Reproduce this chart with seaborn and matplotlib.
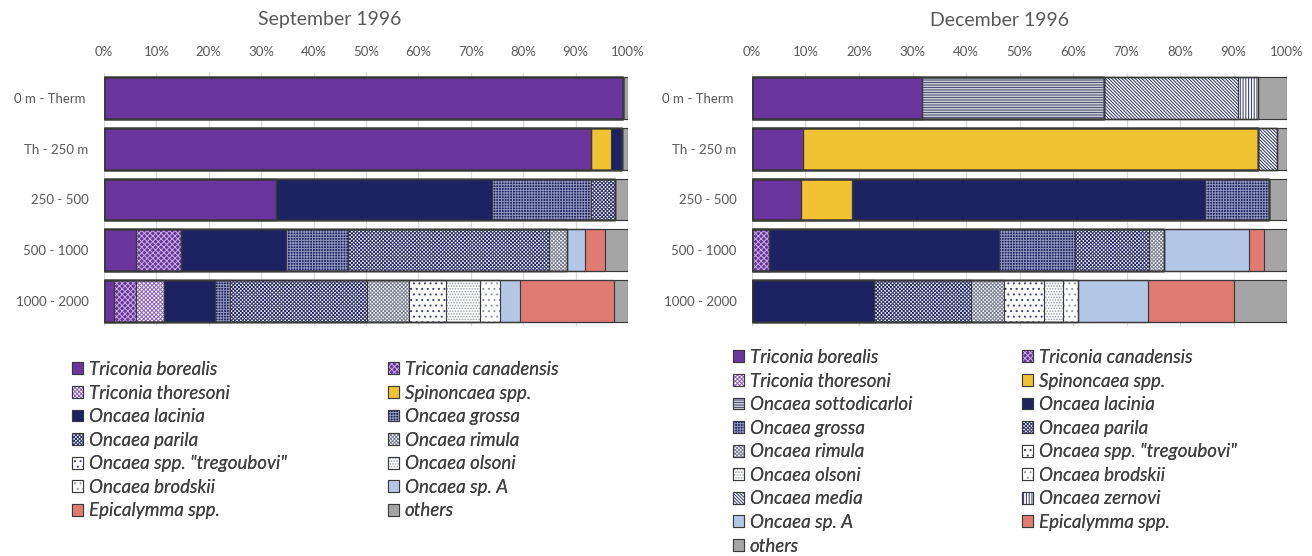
import matplotlib
matplotlib.use("Agg")
import matplotlib.pyplot as plt
from matplotlib.patches import Patch
from matplotlib.legend_handler import HandlerTuple
import numpy as np
import pandas as pd
import seaborn as sns

# ---------------------------------------------------------------- data
DEPTHS = ["0 m - Therm ", "Th - 250 m", "250 - 500", "500 - 1000", "1000 - 2000"]
PCT_TICKS = [0, 10, 20, 30, 40, 50, 60, 70, 80, 90, 100]

SEP_SPECIES = ["Triconia borealis", "Triconia canadensis", "Triconia thoresoni",
               "Spinoncaea spp.", "Oncaea lacinia", "Oncaea grossa", "Oncaea parila",
               "Oncaea rimula", 'Oncaea spp. "tregoubovi"', "Oncaea olsoni",
               "Oncaea brodskii", "Oncaea sp. A", "Epicalymma spp.", "others"]

# relative abundance (%) per depth layer, in SEP_SPECIES order
sep_0m_therm = [99.1, 0, 0, 0, 0, 0, 0, 0, 0, 0, 0, 0, 0, 0.9]
sep_th_250 = [93.0, 0, 0, 3.8, 2.1, 0, 0, 0, 0, 0, 0, 0, 0, 1.1]
sep_250_500 = [32.9, 0, 0, 0, 41.1, 19.0, 4.6, 0, 0, 0, 0, 0, 0, 2.4]
sep_500_1000 = [6.2, 8.4, 0, 0, 20.1, 11.9, 38.3, 3.5, 0, 0, 0, 3.3, 4.0, 4.3]
sep_1000_2000 = [1.9, 4.3, 5.2, 0, 9.7, 2.9, 26.1, 8.1, 7.1, 6.4, 3.8, 3.8, 18.0, 2.7]

DEC_SPECIES = ["Triconia borealis", "Triconia canadensis", "Triconia thoresoni",
               "Spinoncaea spp.", "Oncaea sottodicarloi", "Oncaea lacinia",
               "Oncaea grossa", "Oncaea parila", "Oncaea rimula",
               'Oncaea spp. "tregoubovi"', "Oncaea olsoni", "Oncaea brodskii",
               "Oncaea media", "Oncaea zernovi", "Oncaea sp. A", "Epicalymma spp.",
               "others"]

# relative abundance (%) per depth layer, in DEC_SPECIES order
dec_0m_therm = [31.8, 0, 0, 0, 34.0, 0, 0, 0, 0, 0, 0, 0, 25.1, 3.6, 0, 0, 5.5]
dec_th_250 = [9.5, 0, 0, 85.1, 0, 0, 0, 0, 0, 0, 0, 0, 3.6, 0, 0, 0, 1.8]
dec_250_500 = [9.1, 0, 0, 9.5, 0, 66.0, 12.1, 0, 0, 0, 0, 0, 0, 0, 0, 0, 3.3]
dec_500_1000 = [0, 3.1, 0, 0, 0, 43.0, 14.2, 13.9, 2.8, 0, 0, 0, 0, 0, 15.9, 2.8, 4.3]
dec_1000_2000 = [0, 0, 0, 0, 0, 22.8, 0, 18.1, 6.2, 7.4, 3.6, 2.8, 0, 0, 13.2, 16.0, 9.9]

# ---------------------------------------------------------------- styling
PURPLE = "#6A359C"
NAVY = "#1C2262"
YELLOW = "#F1C232"
LIGHTBLUE = "#B4C7E7"
SALMON = "#E07B73"
GREY = "#A5A5A5"
OUTLINE = "#3A3A3A"
TEXT = "#595959"

# species -> (fill colour, hatch, hatch colour)
STYLE = {
    "Triconia borealis": (PURPLE, None, None),
    "Triconia canadensis": (PURPLE, "x" * 6, "#C4AEE0"),
    "Triconia thoresoni": ("#FFFFFF", "x" * 8, "#8A5CBD"),
    "Spinoncaea spp.": (YELLOW, None, None),
    "Oncaea sottodicarloi": ("#FFFFFF", "-" * 10, "#4B5272"),
    "Oncaea lacinia": (NAVY, None, None),
    "Oncaea grossa": (NAVY, "+" * 6, "#9196BC"),
    "Oncaea parila": ("#FFFFFF", "x" * 9, "#2A3070"),
    "Oncaea rimula": ("#FFFFFF", "x" * 9, "#7C8196"),
    'Oncaea spp. "tregoubovi"': ("#FFFFFF", "...", "#3A4080"),
    "Oncaea olsoni": ("#FFFFFF", "." * 6, "#9095AA"),
    "Oncaea brodskii": ("#FFFFFF", "...", "#9095AA"),
    "Oncaea media": ("#FFFFFF", "\\" * 10, "#2A3070"),
    "Oncaea zernovi": ("#FFFFFF", "|" * 6, "#2A3070"),
    "Oncaea sp. A": (LIGHTBLUE, None, None),
    "Epicalymma spp.": (SALMON, None, None),
    "others": (GREY, None, None),
}

sns.set_style("white")
plt.rcParams["font.family"] = ["Lato", "DejaVu Sans"]
plt.rcParams["hatch.linewidth"] = 0.7

W, H = 1312, 556
fig = plt.figure(figsize=(W / 100, H / 100), dpi=100)

BAR_W = 0.83


def fx(px):
    return px / W


def fy(py):
    return 1 - py / H


def draw_panel(ax, species, rows):
    values = np.array(rows, dtype=float)
    cum = values.cumsum(axis=1)
    # stacked segments: draw cumulative bars from the widest down
    for k in range(len(species) - 1, -1, -1):
        fc, hatch, hc = STYLE[species[k]]
        df = pd.DataFrame({"depth": DEPTHS, "end": cum[:, k]})
        sns.barplot(data=df, x="end", y="depth", orient="h", ax=ax,
                    color=fc, saturation=1, width=BAR_W, errorbar=None,
                    hatch=hatch, edgecolor=hc if hatch else fc,
                    linewidth=0, zorder=2)
    # segment outlines
    for k in range(len(species)):
        if not values[:, k].any():
            continue
        df = pd.DataFrame({"depth": DEPTHS, "end": cum[:, k]})
        sns.barplot(data=df, x="end", y="depth", orient="h", ax=ax,
                    width=BAR_W, errorbar=None, fill=False, color=OUTLINE,
                    linewidth=0.85, zorder=3)
    ax.set_xlim(0, 100)
    ax.set_ylim(len(DEPTHS) - 0.5, -0.5)
    ax.set_xticks(PCT_TICKS)
    ax.set_xticklabels([f"{v}%" for v in PCT_TICKS])
    ax.xaxis.tick_top()
    ax.tick_params(axis="x", length=0, pad=11, labelsize=9.5, labelcolor=TEXT)
    ax.tick_params(axis="y", length=0, pad=11, labelsize=9.5, labelcolor=TEXT)
    ax.set_xlabel("")
    ax.set_ylabel("")
    for s in ax.spines.values():
        s.set_visible(False)
    ax.grid(axis="x", color="#D9D9D9", linewidth=0.9)
    ax.grid(axis="y", visible=False)
    ax.set_axisbelow(True)


def add_legend(species, xa, xb, ytop):
    def handle(sp):
        fc, hatch, hc = STYLE[sp]
        fill = Patch(facecolor=fc, hatch=hatch, edgecolor=hc if hatch else fc, linewidth=0)
        edge = Patch(facecolor="none", edgecolor=OUTLINE, linewidth=0.8)
        return (fill, edge)

    cols = [species[0::2], species[1::2]]
    for names, x in zip(cols, (xa, xb)):
        leg = fig.legend([handle(n) for n in names], names,
                         loc="upper left", bbox_to_anchor=(fx(x), fy(ytop)),
                         bbox_transform=fig.transFigure, frameon=False,
                         handler_map={tuple: HandlerTuple(ndivide=1, pad=0)},
                         handlelength=0.6, handleheight=0.6, handletextpad=0.3,
                         labelspacing=0.35, borderpad=0, borderaxespad=0,
                         prop={"family": ["Lato", "DejaVu Sans"], "style": "italic", "size": 13.5},
                         labelcolor="#404040")
        fig.add_artist(leg)


ax1 = fig.add_axes([fx(104), fy(326), fx(628) - fx(104), fy(73) - fy(326)])
ax2 = fig.add_axes([fx(752), fy(326), fx(1287) - fx(752), fy(73) - fy(326)])

draw_panel(ax1, SEP_SPECIES, [sep_0m_therm, sep_th_250, sep_250_500, sep_500_1000, sep_1000_2000])
draw_panel(ax2, DEC_SPECIES, [dec_0m_therm, dec_th_250, dec_250_500, dec_500_1000, dec_1000_2000])

fig.text(fx(330), fy(20), "September 1996", ha="center", va="center", fontsize=14, color=TEXT)
fig.text(fx(1000), fy(20), "December 1996", ha="center", va="center", fontsize=14, color=TEXT)

add_legend(SEP_SPECIES, 72, 388, 361)
add_legend(DEC_SPECIES, 733, 1022, 349)

fig.savefig("out.png", dpi=100, facecolor="white")
